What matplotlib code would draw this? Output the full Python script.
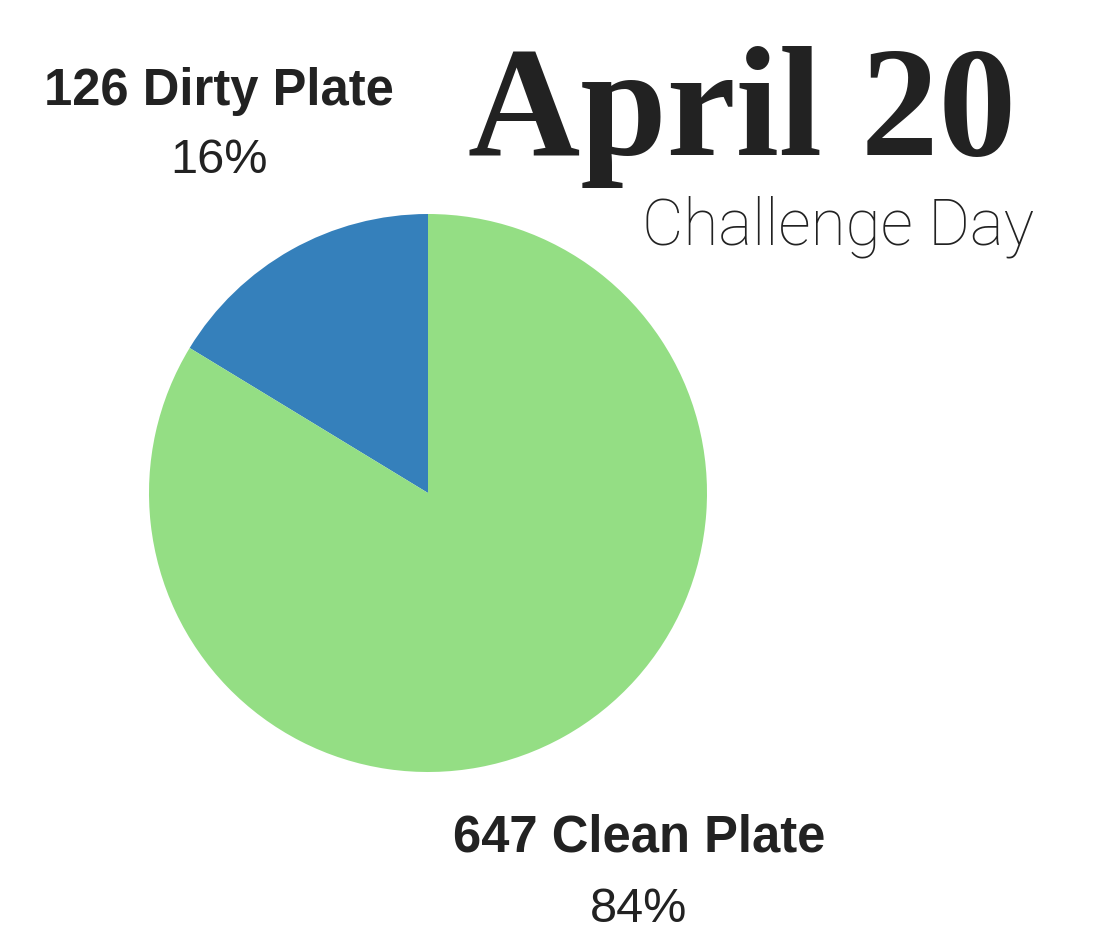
import matplotlib.pyplot as plt

labels = ["Dirty Plate", "Clean Plate"]
counts = [126, 647]
colors = ["#3580bb", "#94de84"]

W, H = 1110, 945
fig = plt.figure(figsize=(W / 100, H / 100), dpi=100)
fig.patch.set_facecolor("white")

# pie centred at about (428, 494) px with radius ~279 px
cx, cy, r = 428, 494, 279
ax = fig.add_axes([(cx - r) / W, 1 - (cy + r) / H, 2 * r / W, 2 * r / H])
ax.pie(counts, colors=colors, startangle=90, counterclock=True, radius=1,
       wedgeprops=dict(linewidth=0))
ax.set_xlim(-1, 1)
ax.set_ylim(-1, 1)
ax.set_aspect("equal")
ax.axis("off")

total = sum(counts)
pct = [round(c / total * 100) for c in counts]

def px(x, y):
    return x / W, 1 - y / H

txt = "#222222"
lab_font = ["Liberation Sans", "DejaVu Sans"]

# label positions (px): name baseline, percent baseline
spots = [(219, 105, 173), (639, 852, 922)]
for (x, yb, yp), c, p, name in zip(spots, counts, pct, labels):
    fig.text(*px(x, yb), f"{c} {name}", ha="center", va="baseline",
             fontsize=36.5, fontweight="bold", family=lab_font, color=txt)
    fig.text(*px(x, yp), f"{p}%", ha="center", va="baseline",
             fontsize=35, family=lab_font, color=txt)

fig.text(*px(742, 155), "April 20", ha="center", va="baseline",
         fontsize=112, fontweight="bold", family=["Liberation Serif", "DejaVu Serif"],
         color=txt)
fig.text(*px(838, 245), "Challenge Day", ha="center", va="baseline",
         fontsize=46, fontweight="light", family=["Roboto", "DejaVu Sans"], color=txt)

fig.savefig("out.png", dpi=100, facecolor="white")
